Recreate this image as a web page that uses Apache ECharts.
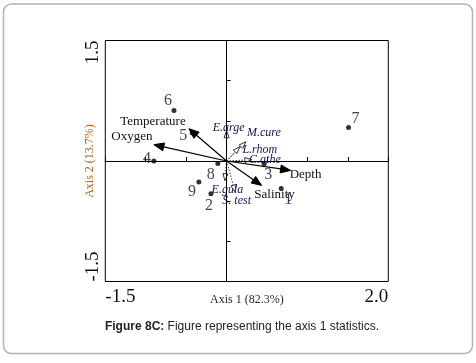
<!DOCTYPE html>
<html><head><meta charset="utf-8">
<script src="https://cdn.jsdelivr.net/npm/echarts@6/dist/echarts.min.js"></script>
<style>html,body{margin:0;padding:0;background:#fff}#c{width:476px;height:363px}</style>
</head><body><div id="c"></div>
<script>
// Sites (samples)
const siteNames = ['1','2','3','4','5','6','7','8','9'];
const siteX = [0.675, -0.194, 0.465, -0.899, -0.425, -0.651, 1.508, -0.108, -0.342];
const siteY = [-0.341, -0.407, -0.034, 0.000, 0.349, 0.630, 0.418, -0.030, -0.262];
// Environmental variables
const envNames = ['Temperature','Oxygen','Depth','Salinity'];
const envX = [-0.466, -0.899, 0.791, 0.433];
const envY = [0.402, 0.203, -0.117, -0.304];
// Species
const spNames = ['E.arge','M.cure','L.rhom','C.athe','E.gula','S. test'];
const spX = [0.0, 0.239, 0.164, 0.313, -0.021, 0.106];
const spY = [0.377, 0.240, 0.178, 0.016, -0.245, -0.386];
// Axis text
const xEndLabels = ['-1.5','2.0'];
const yEndLabels = ['-1.5','1.5'];
const xAxisName = 'Axis 1 (82.3%)';
const yAxisName = 'Axis 2 (13.7%)';
const captionBold = 'Figure 8C:';
const captionText = ' Figure representing the axis 1 statistics.';

// label offsets (styling)
const siteOff = {'1':[7,11],'2':[-2,12],'3':[4,11],'4':[-7,-2],'5':[-9,3],'6':[-6,-10],'7':[7,-9],'8':[-7,11],'9':[-7,10]};
const envOff = {'Temperature':[-36,-7],'Oxygen':[-22,-8],'Depth':[15,4.5],'Salinity':[13,9]};
const spOff = {'E.arge':[2,-2.5],'M.cure':[18,-9],'L.rhom':[20,3.5],'C.athe':[13,0.5],'E.gula':[2.5,9.3],'S. test':[1.5,8.7]};

const serif = 'Liberation Serif';
const chart = echarts.init(document.getElementById('c'));

function arrow(params, api, opt) {
  const name = opt.names[params.dataIndex];
  const p0 = api.coord([0, 0]);
  const p1 = api.coord([api.value(0), api.value(1)]);
  const a = Math.atan2(p1[1]-p0[1], p1[0]-p0[0]);
  const c = Math.cos(a), s = Math.sin(a);
  const bx = p1[0]-opt.hl*c, by = p1[1]-opt.hl*s;
  const w = opt.hw/2;
  const off = opt.off[name];
  return {type:'group', children:[
    {type:'line', shape:{x1:p0[0],y1:p0[1],x2:bx,y2:by}, style:{stroke:opt.lineColor,lineWidth:opt.lw,lineDash:opt.dash}},
    {type:'polygon', shape:{points:[[p1[0],p1[1]],[bx+w*s,by-w*c],[bx-w*s,by+w*c]]}, style:{fill:opt.fill,stroke:opt.lineColor,lineWidth:1}},
    {type:'text', x:p1[0]+off[0], y:p1[1]+off[1], style:{text:name, fill:opt.textColor, font:opt.font, align:'center', verticalAlign:'middle'}}
  ]};
}

chart.setOption({
  animation:false,
  graphic:[
    {type:'rect', shape:{x:3.5,y:4,width:469,height:349.5,r:8}, style:{fill:'none',stroke:'#b3b3b3',lineWidth:1.5}, silent:true},
    {type:'text', x:242, y:327, style:{text:'{b|'+captionBold+'}'+captionText, align:'center', verticalAlign:'middle',
      font:'12px "Liberation Sans"', fill:'#222', rich:{b:{fontWeight:'bold', fontFamily:'Liberation Sans', fontSize:12, fill:'#222'}}}}
  ],
  grid:{left:105.3, right:87.7, top:40.5, bottom:81.5, show:true, borderColor:'#000', borderWidth:1, backgroundColor:'transparent'},
  xAxis:{type:'value', min:-1.5, max:2.0, interval:0.5,
    splitLine:{show:false},
    axisLine:{show:true, lineStyle:{color:'#000'}},
    axisTick:{show:true, inside:true, length:4, lineStyle:{color:'#000'}},
    axisLabel:{show:true, margin:6, fontFamily:serif, fontSize:19, color:'#111',
      alignMinLabel:'left', alignMaxLabel:'right',
      formatter:v => (Math.abs(v+1.5)<1e-9 ? xEndLabels[0] : Math.abs(v-2)<1e-9 ? xEndLabels[1] : '')},
    name:xAxisName, nameLocation:'middle', nameGap:12, nameMoveOverlap:false,
    nameTextStyle:{fontFamily:serif, fontSize:12, color:'#2a2a2a'}
  },
  yAxis:{type:'value', min:-1.5, max:1.5, interval:0.5,
    splitLine:{show:false},
    axisLine:{show:true, lineStyle:{color:'#000'}},
    axisTick:{show:true, inside:true, length:4, lineStyle:{color:'#000'}},
    axisLabel:{show:true, margin:3, rotate:90, fontFamily:serif, fontSize:19, color:'#111',
      alignMinLabel:'left', alignMaxLabel:'right',
      formatter:v => (Math.abs(v+1.5)<1e-9 ? yEndLabels[0] : Math.abs(v-1.5)<1e-9 ? yEndLabels[1] : '')},
    name:yAxisName, nameLocation:'middle', nameGap:9, nameRotate:90, nameMoveOverlap:false,
    nameTextStyle:{fontFamily:serif, fontSize:12, color:'#b5651d'}
  },
  series:[
    {type:'scatter', z:2, data:[], markLine:{silent:true, symbol:['none','none'], label:{show:false},
      lineStyle:{color:'#000', width:1, type:'solid'}, data:[{xAxis:0},{yAxis:0}]}},
    {type:'scatter', z:3, symbolSize:5, itemStyle:{color:'#000'},
      data: siteNames.map((n,i)=>({name:n, value:[siteX[i], siteY[i]],
        label:{show:true, position:'inside', offset:siteOff[n], formatter:n, fontFamily:serif, fontSize:16, color:'#10102e'}}))},
    {type:'custom', z:4, data: spX.map((x,i)=>[x, spY[i]]),
      renderItem:(p,api)=>arrow(p,api,{names:spNames, off:spOff, hl:7, hw:5, lw:1, dash:[1.5,1.5], lineColor:'#333', fill:'#fff', textColor:'#14145a', font:'italic 12px "Liberation Serif"'})},
    {type:'custom', z:5, data: envX.map((x,i)=>[x, envY[i]]),
      renderItem:(p,api)=>arrow(p,api,{names:envNames, off:envOff, hl:10, hw:8, lw:1.2, dash:null, lineColor:'#000', fill:'#000', textColor:'#111', font:'13px "Liberation Serif"'})}
  ]
});
</script></body></html>
